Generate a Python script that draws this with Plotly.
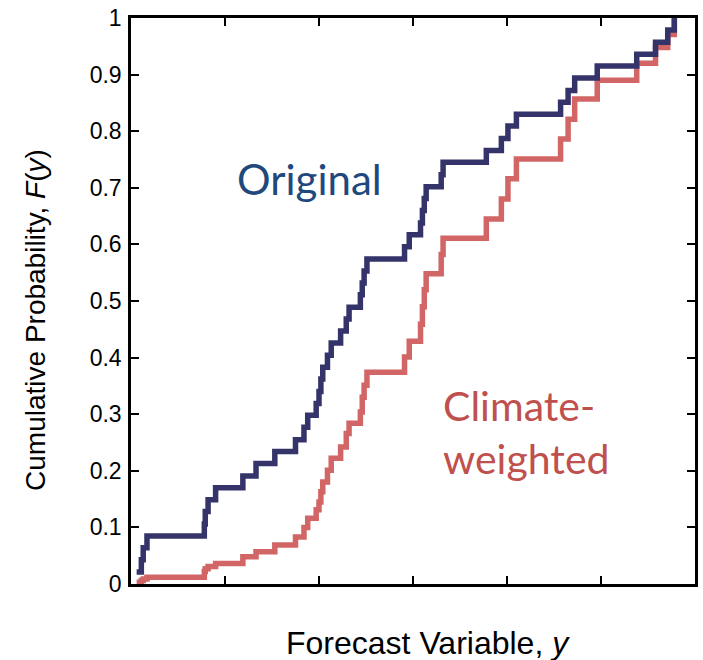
import plotly.graph_objects as go

# Shared sample values (forecast variable) at which both ECDFs jump
x_vals = [0.06, 0.11, 0.13, 0.17, 0.78, 0.79, 0.82, 0.90, 1.19, 1.33,
          1.53, 1.75, 1.84, 1.88, 1.97, 2.00, 2.02, 2.04, 2.09, 2.13,
          2.23, 2.29, 2.32, 2.44, 2.46, 2.48, 2.51, 2.91, 2.96, 3.08,
          3.10, 3.12, 3.14, 3.30, 3.32, 3.78, 3.94, 4.01, 4.10, 4.57,
          4.65, 4.72, 4.96, 5.38, 5.58, 5.71, 5.78]

# Original (equal-weight) cumulative probability
original_F = [0.021, 0.043, 0.064, 0.085, 0.106, 0.128, 0.149, 0.170, 0.191, 0.213,
              0.234, 0.255, 0.277, 0.298, 0.319, 0.340, 0.362, 0.383, 0.404, 0.426,
              0.447, 0.468, 0.489, 0.511, 0.532, 0.553, 0.574, 0.596, 0.617, 0.638,
              0.660, 0.681, 0.702, 0.723, 0.745, 0.766, 0.787, 0.809, 0.830, 0.851,
              0.872, 0.894, 0.915, 0.936, 0.957, 0.979, 1.000]

# Climate-weighted cumulative probability
weighted_F = [0.003, 0.006, 0.009, 0.012, 0.022, 0.027, 0.031, 0.036, 0.048, 0.057,
              0.069, 0.083, 0.100, 0.116, 0.131, 0.145, 0.163, 0.180, 0.201, 0.222,
              0.242, 0.266, 0.284, 0.304, 0.330, 0.351, 0.374, 0.401, 0.429, 0.459,
              0.490, 0.520, 0.548, 0.582, 0.611, 0.645, 0.680, 0.716, 0.751, 0.786,
              0.821, 0.857, 0.890, 0.920, 0.948, 0.971, 1.000]

y_ticks = [0, 0.1, 0.2, 0.3, 0.4, 0.5, 0.6, 0.7, 0.8, 0.9, 1]
y_tick_labels = ["0", "0.1", "0.2", "0.3", "0.4", "0.5", "0.6", "0.7", "0.8", "0.9", "1"]
x_ticks = [1, 2, 3, 4, 5]

fig = go.Figure()
fig.add_trace(go.Scatter(x=x_vals, y=weighted_F, mode="lines", line_shape="hv",
                         line=dict(color="#d26565", width=5.5), name="Climate-weighted"))
fig.add_trace(go.Scatter(x=x_vals, y=original_F, mode="lines", line_shape="hv",
                         line=dict(color="#34346a", width=5.5), name="Original"))

fig.add_annotation(x=1.11, y=0.716, xref="x", yref="y", text="Original", showarrow=False,
                   xanchor="left", yanchor="middle",
                   font=dict(family="Lato, Open Sans, sans-serif", size=42, color="#1F497D"))
fig.add_annotation(x=3.30, y=0.268, xref="x", yref="y", text="Climate-<br>weighted", showarrow=False,
                   xanchor="left", yanchor="middle", align="left",
                   font=dict(family="Lato, Open Sans, sans-serif", size=41, color="#C0504D"))

# Axis titles (placed as annotations to match their offset positions)
fig.add_annotation(x=0.527, y=-0.104, xref="paper", yref="paper",
                   text="Forecast Variable, <i>y</i>", showarrow=False,
                   xanchor="center", yanchor="middle",
                   font=dict(family="Liberation Sans, Arial", size=32, color="black"))
fig.add_annotation(x=-0.169, y=0.466, xref="paper", yref="paper", textangle=-90,
                   text="Cumulative Probability, <i>F</i>(<i>y</i>)", showarrow=False,
                   xanchor="center", yanchor="middle",
                   font=dict(family="Liberation Sans, Arial", size=28, color="black"))

axis_common = dict(showline=True, linecolor="black", linewidth=2.5, mirror="ticks",
                   ticks="inside", ticklen=8, tickwidth=2, tickcolor="black",
                   showgrid=False, zeroline=False)

fig.update_xaxes(range=[0, 6], tickvals=x_ticks, showticklabels=False, **axis_common)
fig.update_yaxes(range=[0, 1], tickvals=y_ticks, ticktext=y_tick_labels,
                 tickfont=dict(family="Liberation Sans, Arial", size=23, color="black"),
                 ticklabelstandoff=2, **axis_common)

fig.update_layout(width=703, height=660, margin=dict(l=131, r=5, t=17, b=76),
                  plot_bgcolor="white", paper_bgcolor="white", showlegend=False)

fig.write_html("out.html")
